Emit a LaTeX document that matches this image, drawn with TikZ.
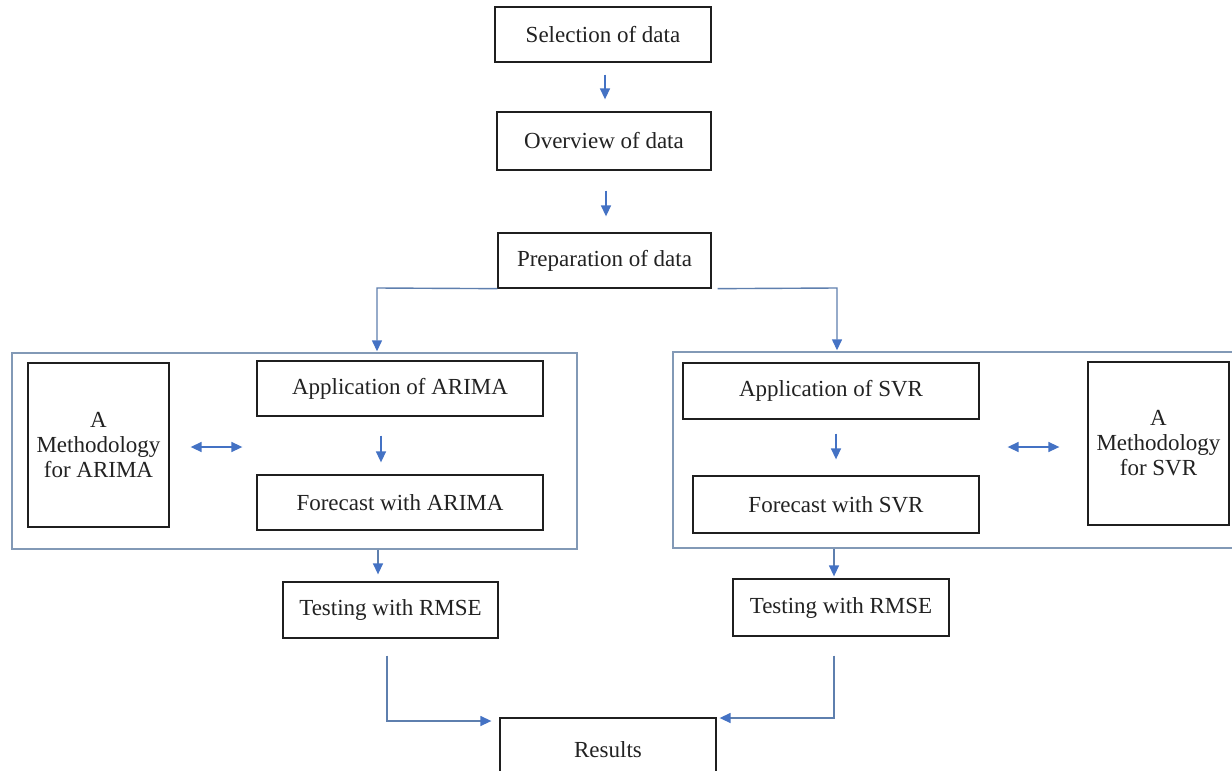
\documentclass[tikz,border=0pt]{standalone}
\usepackage{fontspec}
\setmainfont{Liberation Serif}
\usetikzlibrary{arrows.meta,calc}
\definecolor{arrblue}{HTML}{4472C4}
\definecolor{connc}{HTML}{5E7FAE}
\definecolor{grpc}{HTML}{8299B6}
\definecolor{txtc}{HTML}{222222}
\begin{document}
\begin{tikzpicture}[x=1pt,y=-1pt,
  box/.style={draw=black!88, line width=1.3pt, inner sep=0pt, align=center,
    text=txtc, font=\fontsize{23}{25}\selectfont},
  group/.style={draw=grpc, line width=1.4pt, inner sep=0pt},
  tip/.style={-{Triangle[length=11pt,width=10pt,color=arrblue]}},
  arr/.style={draw=arrblue, line width=1.5pt, tip},
  conn/.style={draw=connc, line width=1.4pt, tip},
  dbl/.style={draw=arrblue, line width=1.5pt,
    {Triangle[length=11pt,width=10pt]}-{Triangle[length=11pt,width=10pt]}}]
\useasboundingbox[fill=white] (0,0) rectangle (1232,771);

% group frames
\node[group, minimum width=565pt, minimum height=196pt] (bigL) at (294.5,451) {};
\node[group, minimum width=570pt, minimum height=196pt] (bigR) at (958,450) {};

% main column
\node[box, minimum width=216pt, minimum height=55pt] (sel) at (603,34.5) {Selection of data};
\node[box, minimum width=214pt, minimum height=58pt] (ovr) at (604,141) {Overview of data};
\node[box, minimum width=213pt, minimum height=55pt] (prep) at (604.5,260.5) {Preparation of data};

% ARIMA side
\node[box, minimum width=141pt, minimum height=164pt] (methA) at (98.5,445) {A\\Methodology\\for ARIMA};
\node[box, minimum width=286pt, minimum height=55pt] (appA) at (400,388.5) {Application of ARIMA};
\node[box, minimum width=286pt, minimum height=55pt] (fcA) at (400,502.5) {Forecast with ARIMA};

% SVR side
\node[box, minimum width=296pt, minimum height=56pt] (appS) at (831,391) {Application of SVR};
\node[box, minimum width=286pt, minimum height=57pt] (fcS) at (836,504.5) {Forecast with SVR};
\node[box, minimum width=141pt, minimum height=163pt] (methS) at (1158.5,443.5) {A\\Methodology\\for SVR};

% testing and results
\node[box, minimum width=215pt, minimum height=56pt] (testL) at (390.5,610) {Testing with RMSE};
\node[box, minimum width=216pt, minimum height=57pt] (testR) at (841,607.5) {Testing with RMSE};
\node[box, minimum width=216pt, minimum height=64pt] (res) at (608,750) {Results};

% connectors
\draw[arr] ([xshift=2pt,yshift=-12pt]sel.south) -- ([xshift=2pt,yshift=12pt]sel.south |- ovr.north);
\draw[arr] ([xshift=2pt,yshift=-20pt]ovr.south) -- ([xshift=2pt,yshift=16pt]ovr.south |- prep.north);

\coordinate (jL) at (377,288);
\coordinate (jR) at (837,288);
\draw[conn] (prep.south west) -- (jL) -- ([yshift=1pt]jL |- bigL.north);
\draw[conn] ([xshift=6pt]prep.south east) -- (jR) -- ([yshift=1pt]jR |- bigR.north);

\coordinate (cA) at (381,0);
\draw[arr] ([yshift=-19pt]cA |- appA.south) -- ([yshift=12pt]cA |- fcA.north);
\coordinate (cS) at (836,0);
\draw[arr] ([yshift=-14pt]cS |- appS.south) -- ([yshift=16pt]cS |- fcS.north);

\coordinate (dy) at (0,447);
\draw[dbl] ([xshift=21pt]methA.east |- dy) -- ([xshift=-14pt]appA.west |- dy);
\draw[dbl] ([xshift=28pt]appS.east |- dy) -- ([xshift=-28pt]methS.west |- dy);

\coordinate (dL) at (378,0);
\draw[conn] (dL |- bigL.south) -- ([yshift=7pt]dL |- testL.north);
\coordinate (dR) at (834,0);
\draw[conn] (dR |- bigR.south) -- ([yshift=2pt]dR |- testR.north);

\coordinate (kL) at (387,721);
\coordinate (kR) at (834,718);
\draw[conn] ([yshift=-17pt]kL |- testL.south) -- (kL) -- ([xshift=-8pt]kL -| res.west);
\draw[conn] ([yshift=-19pt]kR |- testR.south) -- (kR) -- ([xshift=3pt]kR -| res.east);
\end{tikzpicture}
\end{document}
